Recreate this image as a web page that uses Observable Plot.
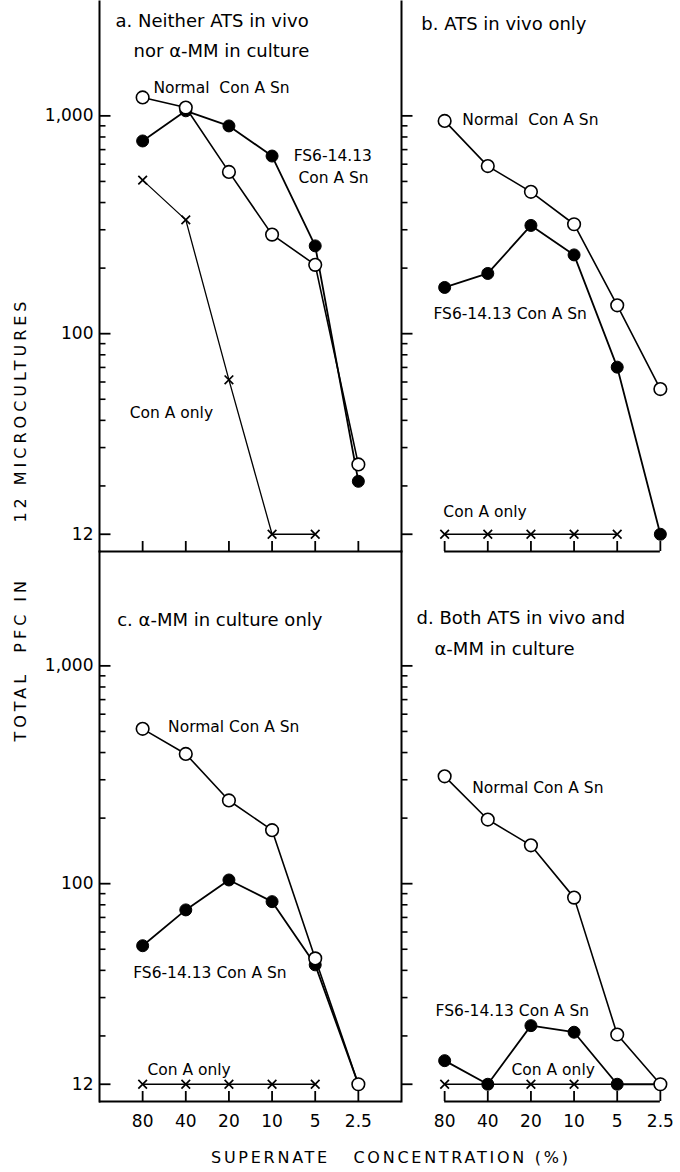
<!DOCTYPE html>
<html>
<head>
<meta charset="utf-8">
<script src="https://cdn.jsdelivr.net/npm/d3@7"></script>
<script src="https://cdn.jsdelivr.net/npm/@observablehq/plot@0.6"></script>
<style>
  html, body { margin: 0; padding: 0; background: #fff; overflow: hidden; }
</style>
</head>
<body>
<div id="chart"></div>
<script>
// ---- data ----
const concentrations = ["80", "40", "20", "10", "5", "2.5"];
const panelIds = ["a", "b", "c", "d"];
const panelCols = ["L", "R", "L", "R"];
const panelRows = ["T", "T", "B", "B"];

const normalA = [1215, 1092, 553, 285, 207, 25.1];
const fs6A    = [767, 1055, 899, 654, 253, 21];
const conAA   = [507, 333, 61.4, 12, 12, null];

const normalB = [948, 588, 448, 318, 135, 55.7];
const fs6B    = [163, 189, 314, 230, 70.2, 12];
const conAB   = [12, 12, 12, 12, 12, null];

const normalC = [514, 394, 241, 176, 45.4, 12];
const fs6C    = [51.9, 75.8, 104, 82.7, 42.4, 12];
const conAC   = [12, 12, 12, 12, 12, null];

const normalD = [311, 197, 150, 86.3, 20.3, 12];
const fs6D    = [15.4, 12, 22.3, 20.8, 12, 12];
const conAD   = [12, 12, 12, 12, 12, null];

const majorTicks = [12, 100, 1000];
const minorTicks = [20, 30, 40, 50, 60, 70, 80, 90, 200, 300, 400, 500, 600, 700, 800, 900];

const yTitle = "TOTAL  PFC IN      12 MICROCULTURES";
const xTitle = "SUPERNATE   CONCENTRATION (%)";

// panel titles and curve labels (x in concentration-step units, y in PFC)
const labelPanel = ["a", "a", "b", "c", "d", "d",
                    "a", "a", "a", "a",
                    "b", "b", "b",
                    "c", "c", "c",
                    "d", "d", "d"];
const labelText = ["a. Neither ATS in vivo", "nor \u03B1-MM in culture", "b. ATS in vivo only",
                   "c. \u03B1-MM in culture only", "d. Both ATS in vivo and", "\u03B1-MM in culture",
                   "Normal  Con A Sn", "FS6-14.13", "Con A Sn", "Con A only",
                   "Normal  Con A Sn", "FS6-14.13 Con A Sn", "Con A only",
                   "Normal Con A Sn", "FS6-14.13 Con A Sn", "Con A only",
                   "Normal Con A Sn", "FS6-14.13 Con A Sn", "Con A only"];
const labelX = [-0.63, -0.21, -0.54, -0.59, -0.65, -0.235,
                0.25, 3.50, 3.61, -0.30,
                0.41, -0.26, -0.03,
                0.59, -0.22, 0.11,
                0.64, -0.21, 1.55];
const labelY = [2712, 1977, 2636, 1625, 1654, 1192,
                1336, 652, 517, 43.2,
                960, 123, 15.2,
                526, 38.8, 14.0,
                276, 25.9, 13.9];
const labelKind = ["title", "title", "title", "title", "title", "title",
                   "curve", "curve", "curve", "curve", "curve", "curve", "curve",
                   "curve", "curve", "curve", "curve", "curve", "curve"];

// ---- layout / tables built from the arrays ----
const W = 680, H = 1172, mLeft = 99, mRight = -23;
const xDomain = [-1, concentrations.length];
const panelWidth = (W - mLeft - mRight) / 2;
const pxToX = px => px * (xDomain[1] - xDomain[0]) / panelWidth; // tick length in x units

const seriesByPanel = {
  a: {normal: normalA, fs6: fs6A, conA: conAA},
  b: {normal: normalB, fs6: fs6B, conA: conAB},
  c: {normal: normalC, fs6: fs6C, conA: conAC},
  d: {normal: normalD, fs6: fs6D, conA: conAD}
};
const rows = [];
panelIds.forEach((p, k) => {
  for (const s of ["fs6", "normal", "conA"]) {
    seriesByPanel[p][s].forEach((v, i) => {
      if (v != null) rows.push({panel: p, col: panelCols[k], row: panelRows[k], series: s, i, value: v});
    });
  }
});
const panels = panelIds.map((p, k) => ({panel: p, col: panelCols[k], row: panelRows[k]}));
const tickRows = (vals) => panels.flatMap(p => vals.map(v => ({...p, v})));
const labels = labelText.map((t, j) => {
  const k = panelIds.indexOf(labelPanel[j]);
  return {text: t, x: labelX[j], y: labelY[j], kind: labelKind[j], col: panelCols[k], row: panelRows[k]};
});

const ser = s => rows.filter(d => d.series === s);
const font = "'DejaVu Sans', 'Liberation Sans', sans-serif";

const chart = Plot.plot({
  width: W,
  height: H,
  marginLeft: mLeft,
  marginRight: mRight,
  marginTop: 0,
  marginBottom: 71,
  style: {fontFamily: font, background: "white", color: "black"},
  x: {type: "linear", domain: xDomain, axis: null},
  y: {type: "log", domain: [10, 3350], axis: null},
  fx: {domain: ["L", "R"], padding: 0, axis: null},
  fy: {domain: ["T", "B"], padding: 0, axis: null},
  marks: [
    // left axis line of each panel
    Plot.frame({anchor: "left", stroke: "black", strokeWidth: 2}),
    // baselines
    Plot.ruleY(panels.filter(d => d.col === "L"), {y: () => 10, fx: "col", fy: "row", stroke: "black", strokeWidth: 2}),
    Plot.ruleY(panels.filter(d => d.col === "R"), {y: () => 10, x2: () => concentrations.length - 1, fx: "col", fy: "row", stroke: "black", strokeWidth: 2}),
    // y ticks pointing inward from each panel's left axis
    Plot.ruleY(tickRows(minorTicks), {y: "v", x1: () => xDomain[0], x2: () => xDomain[0] + pxToX(6.5), fx: "col", fy: "row", stroke: "black", strokeWidth: 1.6}),
    Plot.ruleY(tickRows(majorTicks), {y: "v", x1: () => xDomain[0], x2: () => xDomain[0] + pxToX(11.5), fx: "col", fy: "row", stroke: "black", strokeWidth: 1.8}),
    Plot.axisY({ticks: majorTicks, tickSize: 0, tickPadding: 6, tickFormat: d3.format(","), label: null, fontSize: 17}),
    // x ticks (inward) and labels
    Plot.axisX({ticks: d3.range(concentrations.length), tickSize: -10, tickFormat: () => "", facetAnchor: null, label: null, strokeWidth: 1.8}),
    Plot.axisX({ticks: d3.range(concentrations.length), tickSize: 0, tickPadding: 13, tickFormat: i => concentrations[i], label: null, fontSize: 17}),
    // lines
    Plot.line(ser("conA"), {x: "i", y: "value", z: "panel", fx: "col", fy: "row", stroke: "black", strokeWidth: 1.3}),
    Plot.line(ser("fs6"), {x: "i", y: "value", z: "panel", fx: "col", fy: "row", stroke: "black", strokeWidth: 1.8}),
    Plot.line(ser("normal"), {x: "i", y: "value", z: "panel", fx: "col", fy: "row", stroke: "black", strokeWidth: 1.6}),
    // markers
    Plot.dot(ser("conA"), {x: "i", y: "value", fx: "col", fy: "row", symbol: "times", r: 4, stroke: "black", strokeWidth: 1.7}),
    Plot.dot(ser("fs6"), {x: "i", y: "value", fx: "col", fy: "row", r: 6, fill: "black", stroke: "black", strokeWidth: 1}),
    Plot.dot(ser("normal"), {x: "i", y: "value", fx: "col", fy: "row", r: 6.3, fill: "white", stroke: "black", strokeWidth: 1.6}),
    // panel titles and curve labels
    Plot.text(labels.filter(d => d.kind === "title"), {x: "x", y: "y", text: "text", fx: "col", fy: "row", textAnchor: "start", fontSize: 18, fill: "black"}),
    Plot.text(labels.filter(d => d.kind === "curve"), {x: "x", y: "y", text: "text", fx: "col", fy: "row", textAnchor: "start", fontSize: 15.5, fill: "black"}),
    // axis titles
    Plot.text([yTitle], {facet: "super", frameAnchor: "left", dx: -79, dy: -30, rotate: -90, textAnchor: "middle", fontSize: 16, fill: "black"}),
    Plot.text([xTitle], {facet: "super", frameAnchor: "bottom", dx: -12, dy: 61, textAnchor: "middle", fontSize: 16, fill: "black"})
  ]
});
// spread the axis titles to the reference's letter spacing
d3.select(chart).selectAll("text").each(function() {
  const t = this.textContent;
  if (t === yTitle) d3.select(this).attr("textLength", 440).attr("lengthAdjust", "spacing");
  if (t === xTitle) d3.select(this).attr("textLength", 357).attr("lengthAdjust", "spacing");
});
document.getElementById("chart").appendChild(chart);
</script>
</body>
</html>
